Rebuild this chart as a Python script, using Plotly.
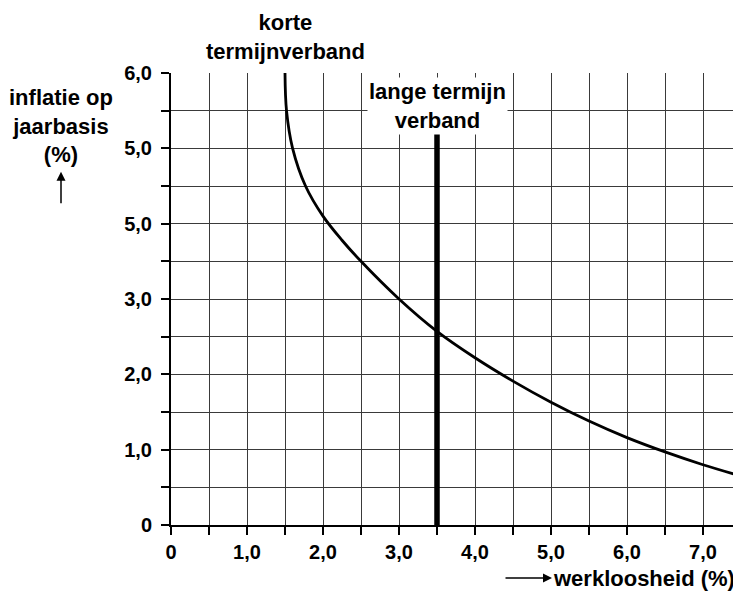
import plotly.graph_objects as go

# Short-run Phillips curve
curve_x = [1.50, 1.52, 1.60, 1.77, 2.00, 2.25, 2.50, 3.00, 3.50, 4.00, 4.50, 5.00, 5.50, 6.00, 6.50, 7.00, 7.50]
curve_y = [6.00, 5.50, 5.00, 4.50, 4.10, 3.78, 3.50, 3.00, 2.57, 2.22, 1.91, 1.63, 1.38, 1.16, 0.97, 0.80, 0.65]

# Long-run relation (vertical line)
long_x = [3.5, 3.5]
long_y = [0.0, 5.2]

x_tickvals = [0, 0.5, 1, 1.5, 2, 2.5, 3, 3.5, 4, 4.5, 5, 5.5, 6, 6.5, 7, 7.5]
x_ticktext = ["0", "", "1,0", "", "2,0", "", "3,0", "", "4,0", "", "5,0", "", "6,0", "", "7,0", ""]
y_tickvals = [0, 0.5, 1, 1.5, 2, 2.5, 3, 3.5, 4, 4.5, 5, 5.5, 6]
y_ticktext = ["0", "", "1,0", "", "2,0", "", "3,0", "", "5,0", "", "5,0", "", "6,0"]

FONT = "Liberation Sans, Arial, sans-serif"

fig = go.Figure()
fig.add_trace(go.Scatter(x=curve_x, y=curve_y, mode="lines",
                         line=dict(color="black", width=2.8, shape="spline", smoothing=1.0),
                         hoverinfo="skip", showlegend=False))
fig.add_trace(go.Scatter(x=long_x, y=long_y, mode="lines",
                         line=dict(color="black", width=5.5),
                         hoverinfo="skip", showlegend=False))

axis_common = dict(
    showgrid=True, gridcolor="#3a3a3a", gridwidth=1.3,
    showline=True, linecolor="black", linewidth=2,
    ticks="outside", ticklen=8, tickwidth=1.5, tickcolor="black",
    zeroline=False, fixedrange=True,
    tickfont=dict(family=FONT, size=20, color="black", weight="bold"),
)

fig.update_xaxes(range=[0, 7.5], tickmode="array", tickvals=x_tickvals,
                 ticktext=x_ticktext, **axis_common)
fig.update_yaxes(range=[0, 6.0], tickmode="array", tickvals=y_tickvals,
                 ticktext=y_ticktext, ticklabelstandoff=5, **axis_common)

# figure coordinates (page has an 8px body margin)
L, T, W, H = 163, 65, 733, 583
B = H - 517
pw, ph = W - L, H - T - B
def px_x(p):
    return (p - L) / pw
def px_y(p):
    return (T + ph - p) / ph

txt = dict(family=FONT, size=22, color="black", weight="bold")
annotations = [
    dict(text="korte<br>termijnverband", x=1.5, xref="x", y=px_y(28.5), yref="paper",
         showarrow=False, xanchor="center", yanchor="middle", font=txt),
    dict(text="lange termijn<br>verband", x=3.5, xref="x", y=5.56, yref="y",
         showarrow=False, xanchor="center", yanchor="middle", font=txt,
         bgcolor="white", borderpad=1),
    dict(text="inflatie op<br>jaarbasis<br>(%)", x=px_x(52.7), xref="paper", y=px_y(117.7), yref="paper",
         showarrow=False, xanchor="center", yanchor="middle", font=txt),
    dict(text="", x=px_x(53), xref="paper", y=px_y(163.7), yref="paper",
         showarrow=True, ax=0, ay=33, axref="pixel", ayref="pixel",
         arrowhead=2, arrowsize=1.2, arrowwidth=1.5, arrowcolor="black"),
    dict(text="werkloosheid (%)", x=px_x(729), xref="paper", y=px_y(570), yref="paper",
         showarrow=False, xanchor="right", yanchor="middle", font=txt),
    dict(text="", x=px_x(544), xref="paper", y=px_y(570), yref="paper",
         showarrow=True, ax=-48, ay=0, axref="pixel", ayref="pixel",
         arrowhead=2, arrowsize=1.2, arrowwidth=1.5, arrowcolor="black"),
]

fig.update_layout(
    width=W, height=H,
    margin=dict(l=L, r=0, t=T, b=B, autoexpand=False),
    paper_bgcolor="white", plot_bgcolor="white",
    font=dict(family=FONT, color="black"),
    annotations=annotations,
    showlegend=False,
)

fig.write_html("out.html")
